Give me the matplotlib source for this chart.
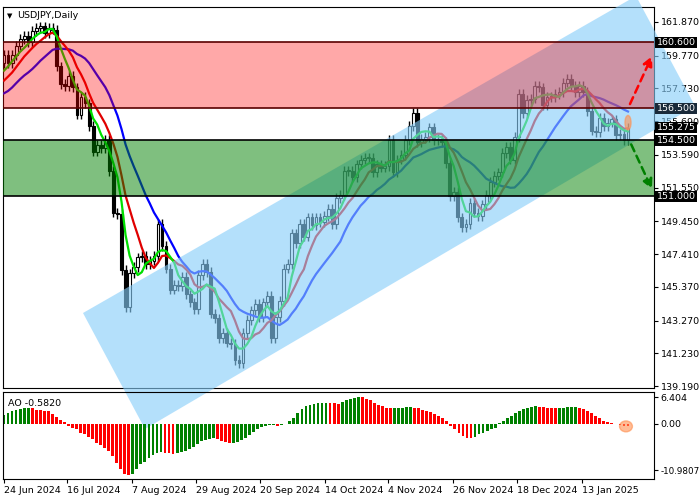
import numpy as np
import pandas as pd
import matplotlib
matplotlib.use("Agg")
import matplotlib.pyplot as plt
from matplotlib.patches import Polygon, Rectangle, Ellipse
from matplotlib.transforms import blended_transform_factory

plt.rcParams['font.family'] = ['DejaVu Sans']

# ---------------- data ----------------
warmup = [156.5, 156.9, 157.0, 156.7, 155.9, 155.6, 156.2, 156.9, 157.2, 157.4,
          157.0, 156.8, 157.1, 157.5, 157.4, 157.8, 158.0, 158.2, 158.9, 159.3]
closes = [159.8, 159.3, 159.8, 160.4, 160.8, 161.0, 160.6, 161.3, 161.5, 161.6, 161.2, 161.5, 161.4,
          159.1, 158.0, 157.9, 158.5, 157.8, 156.1,
          157.2, 156.8, 155.4, 153.8, 154.2, 154.0, 154.5, 152.6, 150.0, 149.9, 146.4, 144.1,
          146.2, 146.6, 147.2, 147.3, 146.8, 147.0, 147.3, 149.3, 147.9, 146.5, 145.2,
          145.5, 145.4, 146.0, 144.9, 144.4, 144.0, 146.1, 146.8, 146.3, 143.7, 143.4, 142.2,
          142.5, 141.9, 141.8, 140.8, 140.6, 142.5, 143.3, 143.9, 144.3, 143.5, 144.4, 144.8,
          142.2, 143.5, 144.5, 146.5, 146.8, 148.7, 148.1, 149.3, 148.5, 149.7, 149.2,
          149.7, 149.4, 149.8, 150.2, 149.3, 150.9, 151.1, 152.6, 152.6, 152.2, 153.0, 153.3,
          153.4, 153.4, 152.5, 153.0, 152.8, 152.9, 154.5, 152.5, 153.3, 153.6, 154.5, 155.4,
          156.2, 154.4, 154.6, 154.7, 155.3, 154.5, 154.6, 154.4, 153.1, 151.0, 151.3, 149.7,
          149.1, 149.3, 150.6, 150.0, 149.8, 150.5,
          151.1, 151.9, 152.3, 152.5, 153.7, 154.1, 153.3, 154.7, 157.4, 156.2, 157.0, 157.1,
          157.9, 157.8, 156.7, 157.2, 157.2, 157.4, 157.5, 158.1, 158.3, 157.9, 157.5, 157.9,
          157.5, 156.3, 155.1, 155.0, 155.9, 155.4, 155.6, 155.8, 154.8, 154.9, 154.5, 155.275]
ao_values = [2.2, 2.6, 3.0, 3.3, 3.6, 3.8, 3.8,
             3.7, 3.4, 3.2, 3.1, 3.0, 2.4, 1.6, 1.0, 0.4,
             -0.5, -0.9, -1.3, -2.1, -2.5, -3.1, -3.7, -4.5, -5.0, -5.8, -6.5, -7.6, -9.2, -10.7, -11.8, -12.1,
             -11.9, -10.8, -9.6, -9.0, -8.1, -7.4, -7.0, -6.7,
             -6.9, -7.0, -7.1,
             -6.8, -6.6, -6.4, -6.0, -5.4, -4.7, -4.0, -3.8, -3.6, -3.4,
             -3.5, -4.1, -4.4, -4.5, -4.5,
             -4.2, -3.9, -3.3, -2.6, -1.9, -1.3, -0.8, -0.5, -0.3, -0.2, -0.4, -0.2, -0.1,
             0.6, 1.4, 2.6, 3.6, 4.2, 4.4, 4.8, 4.9, 5.0, 5.0,
             4.95, 4.9, 4.85,
             5.3, 5.6, 5.9, 6.2, 6.4,
             6.3, 6.0, 5.6, 5.1, 4.5, 4.2, 3.9, 3.7,
             3.8, 3.85, 3.9, 3.95, 4.0,
             3.9, 3.7, 3.4, 3.1, 2.8, 2.4, 2.0, 1.3, 0.6,
             -0.6, -1.3, -2.1, -2.9, -3.3, -3.4,
             -3.0, -2.5, -2.1, -1.7, -1.3, -0.9,
             0.3, 0.8, 1.3, 2.0, 2.6, 3.1, 3.6, 3.9, 4.1, 4.2,
             4.1, 4.0, 3.9, 3.85, 3.8,
             3.85, 3.9, 3.95, 4.0, 4.05,
             3.9, 3.6, 3.1, 2.6, 2.0, 1.4, 0.8, 0.4, 0.2, 0.1, -0.3, -0.5, -0.58]
date_labels = ["24 Jun 2024", "16 Jul 2024", "7 Aug 2024", "29 Aug 2024", "20 Sep 2024",
               "14 Oct 2024", "4 Nov 2024", "26 Nov 2024", "18 Dec 2024", "13 Jan 2025"]
price_ticks = [161.870, 159.770, 157.730, 155.690, 153.590, 151.550, 149.450,
               147.410, 145.370, 143.270, 141.230, 139.190]
level_labels = [160.600, 156.500, 155.275, 154.500, 151.000]
resistance_zone = (156.5, 160.6)
support_zone = (151.0, 154.5)
ao_ticks = [6.404, 0.0, -10.9807]

# ---------------- layout ----------------
W, H = 700, 500
FS = 6.8
fig = plt.figure(figsize=(7, 5), dpi=100)
fig.patch.set_facecolor('white')
ax = fig.add_axes([3/W, 1-388/H, (654-3)/W, (388-7)/H])
ax2 = fig.add_axes([3/W, 1-479/H, (654-3)/W, (479-392)/H])
ax2.patch.set_alpha(0)

N = len(closes)
def px2idx(px, n=N):
    return (px - 4) / (624 / (n - 1))

allc = np.array(warmup + closes, dtype=float)
s = pd.Series(allc)
ma_g = s.rolling(5).mean().values[len(warmup):]
ma_r = s.rolling(9).mean().values[len(warmup):]
ma_b = s.rolling(18).mean().values[len(warmup):]
opens = allc[len(warmup)-1:-1]
c = np.array(closes)
x = np.arange(N)

for i in range(N):
    o, cl = opens[i], c[i]
    hi = max(o, cl) + 0.3
    lo = min(o, cl) - 0.3
    ax.vlines(x[i], lo, hi, color='black', lw=1, zorder=2)
    bot = min(o, cl); h = max(abs(cl - o), 0.06)
    fc = 'white' if cl >= o else 'black'
    ax.add_patch(Rectangle((x[i]-0.35, bot), 0.7, h, facecolor=fc, edgecolor='black', lw=0.8, zorder=3))

ax.plot(x, ma_b, color='#0000ff', lw=1.6, zorder=4)
ax.plot(x, ma_r, color='#e00000', lw=1.6, zorder=4)
ax.plot(x, ma_g, color='#00e000', lw=1.6, zorder=4)

# zones
ax.axhspan(*resistance_zone, color=(1, 0, 0), alpha=0.34, lw=0, zorder=5)
ax.axhspan(*support_zone, color=(0, 0.5, 0), alpha=0.5, lw=0, zorder=5)
for lvl, col in [(160.6, '#5a0000'), (156.5, '#5a0000'), (154.5, 'black'), (151.0, 'black')]:
    ax.axhline(lvl, color=col, lw=1.2, zorder=6)

ax.set_xlim(px2idx(3), px2idx(654))
ax.set_ylim(139.19 - 2/16.05, 161.87 + 15/16.05)

# channel across figure (pixel coords), drawn from the price axes without clipping
pts = [(83, 313), (636, -4), (695, 106), (145, 429)]
poly = Polygon([(px/W, 1 - py/H) for px, py in pts], closed=True, transform=fig.transFigure,
               facecolor=(135/255, 206/255, 250/255), alpha=0.62, lw=0, zorder=4.5, clip_on=False)
ax.add_artist(poly)

# arrows
last = x[-1]
ax.annotate('', xy=(last + 6.2, 159.9), xytext=(last + 0.2, 156.6),
            arrowprops=dict(arrowstyle='-|>', color='red', lw=1.8, ls=(0, (3, 2)), mutation_scale=14), zorder=8)
ax.annotate('', xy=(last + 6.2, 151.3), xytext=(last + 0.5, 154.4),
            arrowprops=dict(arrowstyle='-|>', color='green', lw=1.8, ls=(0, (3, 2)), mutation_scale=14), zorder=8)
ax.add_patch(Ellipse((last, 155.6), 1.5, 0.9, color='#ff9050', alpha=0.6, zorder=7))

ax.yaxis.tick_right()
ax.set_yticks(price_ticks)
ax.set_yticklabels([f"{v:.3f}" for v in price_ticks], fontsize=FS)
ax.tick_params(axis='y', length=3, pad=2)
ax.set_xticks([])

tr = blended_transform_factory(ax.transAxes, ax.transData)
for v in level_labels:
    bg = '#1a2a3a' if v == 156.5 else 'black'
    ax.text(1.004, v, f"{v:.3f}", transform=tr, fontsize=FS, color='white', va='center', ha='left',
            bbox=dict(boxstyle='square,pad=0.12', fc=bg, ec='none'), zorder=10, clip_on=False)

ax.text(0.006, 0.985, "\u25bc", transform=ax.transAxes, fontsize=5, va='top', ha='left')
ax.text(0.022, 0.99, "USDJPY,Daily", transform=ax.transAxes, fontsize=FS, va='top', ha='left')

# AO panel
na = len(ao_values)
xa = np.arange(na)
av = np.array(ao_values)
cols = ['green' if i == 0 or av[i] >= av[i-1] else 'red' for i in range(na)]
ax2.bar(xa, av, width=0.7, color=cols, lw=0)
ax2.set_xlim(px2idx(3, na), px2idx(654, na))
ax2.set_ylim(-13.1, 7.6)
ax2.add_patch(Ellipse((xa[-1] - 0.5, av[-1]), 3.2, 2.6, color='#ff9050', alpha=0.6, zorder=5))
ax2.yaxis.tick_right()
ax2.set_yticks(ao_ticks)
ax2.set_yticklabels(["6.404", "0.00", "-10.9807"], fontsize=FS)
ax2.get_yticklabels()[2].set_fontsize(6.3)
ax2.tick_params(axis='y', length=3, pad=1.5)
tick_px = [3.6, 67, 132, 196, 260, 325, 388, 453, 517, 582]
ax2.set_xticks([px2idx(p, na) for p in tick_px])
ax2.set_xticklabels(date_labels, fontsize=FS, ha='left')
ax2.tick_params(axis='x', length=3, pad=2)
ax2.text(0.008, 0.92, "AO -0.5820", transform=ax2.transAxes, fontsize=FS, va='top', ha='left')

fig.savefig("out.png", dpi=100)
